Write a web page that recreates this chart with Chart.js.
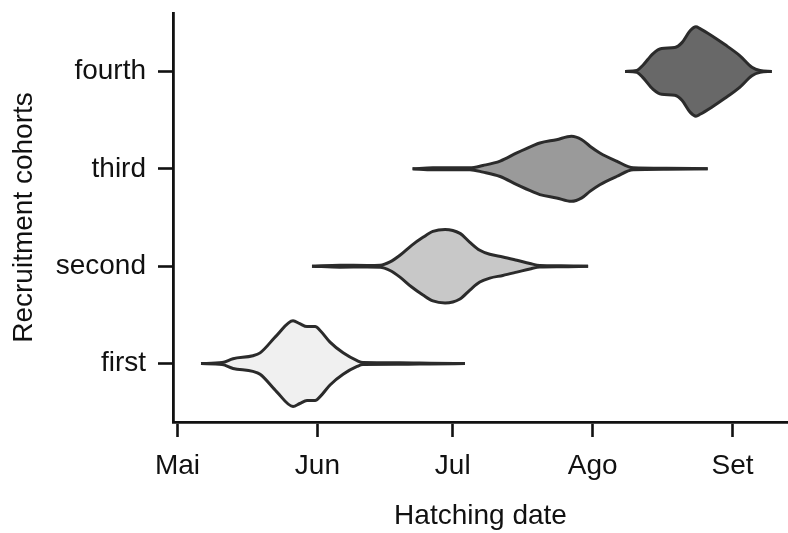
<!DOCTYPE html>
<html>
<head>
<meta charset="utf-8">
<script src="https://cdn.jsdelivr.net/npm/chart.js@4.4.1/dist/chart.umd.min.js"></script>
<style>
  body { margin: 0; background: #fff; }
  canvas { display: block; }
</style>
</head>
<body>
<canvas id="violinChart" width="788" height="533"></canvas>
<script>
// ================= DATA =================
// x = days since 1 May, half = violin half-width (in category units)

const cohorts = ["first", "second", "third", "fourth"];
const monthTicks = [0, 31, 61, 92, 123];
const monthLabels = ["Mai", "Jun", "Jul", "Ago", "Set"];
const fillColors = ["#f0f0f0", "#c8c8c8", "#9a9a9a", "#686868"];

const firstDays = [5.2, 9.9, 12.3, 16.7, 18.3, 22, 25.6, 27.1, 28.7, 30.5, 31.6, 33.8, 36.7, 39.8, 41.1, 49.3, 56, 63.7];
const firstHalf = [0, 0.01, 0.05, 0.08, 0.11, 0.29, 0.44, 0.41, 0.38, 0.38, 0.34, 0.22, 0.11, 0.03, 0.01, 0.008, 0.004, 0];

const secondDays = [29.8, 36, 42, 44.9, 47.1, 49.3, 51.9, 54.4, 56.6, 59.3, 62.6, 64.8, 67, 69.2, 72.1, 75.2, 78.1, 80.3, 85, 91];
const secondHalf = [0, 0.01, 0.008, 0.01, 0.044, 0.112, 0.214, 0.296, 0.357, 0.378, 0.337, 0.245, 0.163, 0.122, 0.095, 0.061, 0.028, 0.008, 0.005, 0];

const thirdDays = [52.1, 56.6, 64.8, 67.7, 71.5, 75.2, 78.8, 80.3, 84, 87.3, 89.6, 91.4, 93.6, 97.3, 101, 108.4, 117.5];
const thirdHalf = [0, 0.01, 0.01, 0.034, 0.079, 0.163, 0.238, 0.265, 0.299, 0.334, 0.299, 0.232, 0.163, 0.079, 0.01, 0.005, 0];

const fourthDays = [99.2, 101.8, 103.1, 105.4, 107.3, 110.2, 111.8, 113.6, 114.9, 115.8, 118.4, 121.3, 124.6, 127.3, 129.1, 131.7];
const fourthHalf = [0, 0.01, 0.061, 0.184, 0.235, 0.245, 0.296, 0.418, 0.459, 0.44, 0.367, 0.276, 0.163, 0.044, 0.01, 0];

const violinDays = [firstDays, secondDays, thirdDays, fourthDays];
const violinHalf = [firstHalf, secondHalf, thirdHalf, fourthHalf];

// ================= DATASETS =================
const datasets = [];

cohorts.forEach((name, i) => {
    const level = i + 1;
    const days = violinDays[i];
    const half = violinHalf[i];

    datasets.push({
        label: name + " upper",
        data: days.map((d, k) => ({ x: d, y: level + half[k] })),
        borderColor: "#2b2b2b",
        borderWidth: 3,
        pointRadius: 0,
        fill: false,
        cubicInterpolationMode: "monotone"
    });

    datasets.push({
        label: name + " lower",
        data: days.map((d, k) => ({ x: d, y: level - half[k] })),
        borderColor: "#2b2b2b",
        borderWidth: 3,
        pointRadius: 0,
        backgroundColor: fillColors[i],
        fill: "-1",
        cubicInterpolationMode: "monotone"
    });
});

// ================= CHART =================
const fontFamily = "'Liberation Sans', Arial, sans-serif";

new Chart(document.getElementById("violinChart"), {
    type: "line",
    data: { datasets: datasets },
    options: {
        responsive: false,
        animation: false,
        layout: { padding: { top: 13, right: 0, left: 3, bottom: 0 } },
        plugins: {
            legend: { display: false },
            tooltip: { enabled: false }
        },
        scales: {
            x: {
                type: "linear",
                min: -1,
                max: 135.3,
                afterBuildTicks: scale => {
                    scale.ticks = monthTicks.map(v => ({ value: v }));
                },
                afterFit: scale => {
                    scale.height = 111;
                    scale.paddingLeft = 0;
                    scale.paddingRight = 0;
                },
                ticks: {
                    color: "#111",
                    font: { family: fontFamily, size: 28 },
                    padding: 12,
                    maxRotation: 0,
                    callback: value => monthLabels[monthTicks.indexOf(value)]
                },
                grid: {
                    drawOnChartArea: false,
                    drawTicks: true,
                    tickLength: 15,
                    tickWidth: 2.6,
                    tickColor: "#111"
                },
                border: { display: true, color: "#111", width: 2.8 },
                title: {
                    display: true,
                    text: "Hatching date",
                    color: "#111",
                    padding: { top: 4, bottom: 0 },
                    font: { family: fontFamily, size: 28 }
                }
            },
            y: {
                type: "linear",
                min: 0.4,
                max: 4.6,
                afterBuildTicks: scale => {
                    scale.ticks = cohorts.map((c, i) => ({ value: i + 1 }));
                },
                afterFit: scale => {
                    scale.width = 170;
                    scale.paddingTop = 0;
                    scale.paddingBottom = 0;
                },
                ticks: {
                    color: "#111",
                    font: { family: fontFamily, size: 28 },
                    padding: 12,
                    callback: value => cohorts[value - 1]
                },
                grid: {
                    drawOnChartArea: false,
                    drawTicks: true,
                    tickLength: 15,
                    tickWidth: 2.6,
                    tickColor: "#111"
                },
                border: { display: true, color: "#111", width: 2.8 },
                title: {
                    display: true,
                    text: "Recruitment cohorts",
                    color: "#111",
                    padding: { top: 4, bottom: 4 },
                    font: { family: fontFamily, size: 28 }
                }
            }
        }
    }
});
</script>
</body>
</html>
